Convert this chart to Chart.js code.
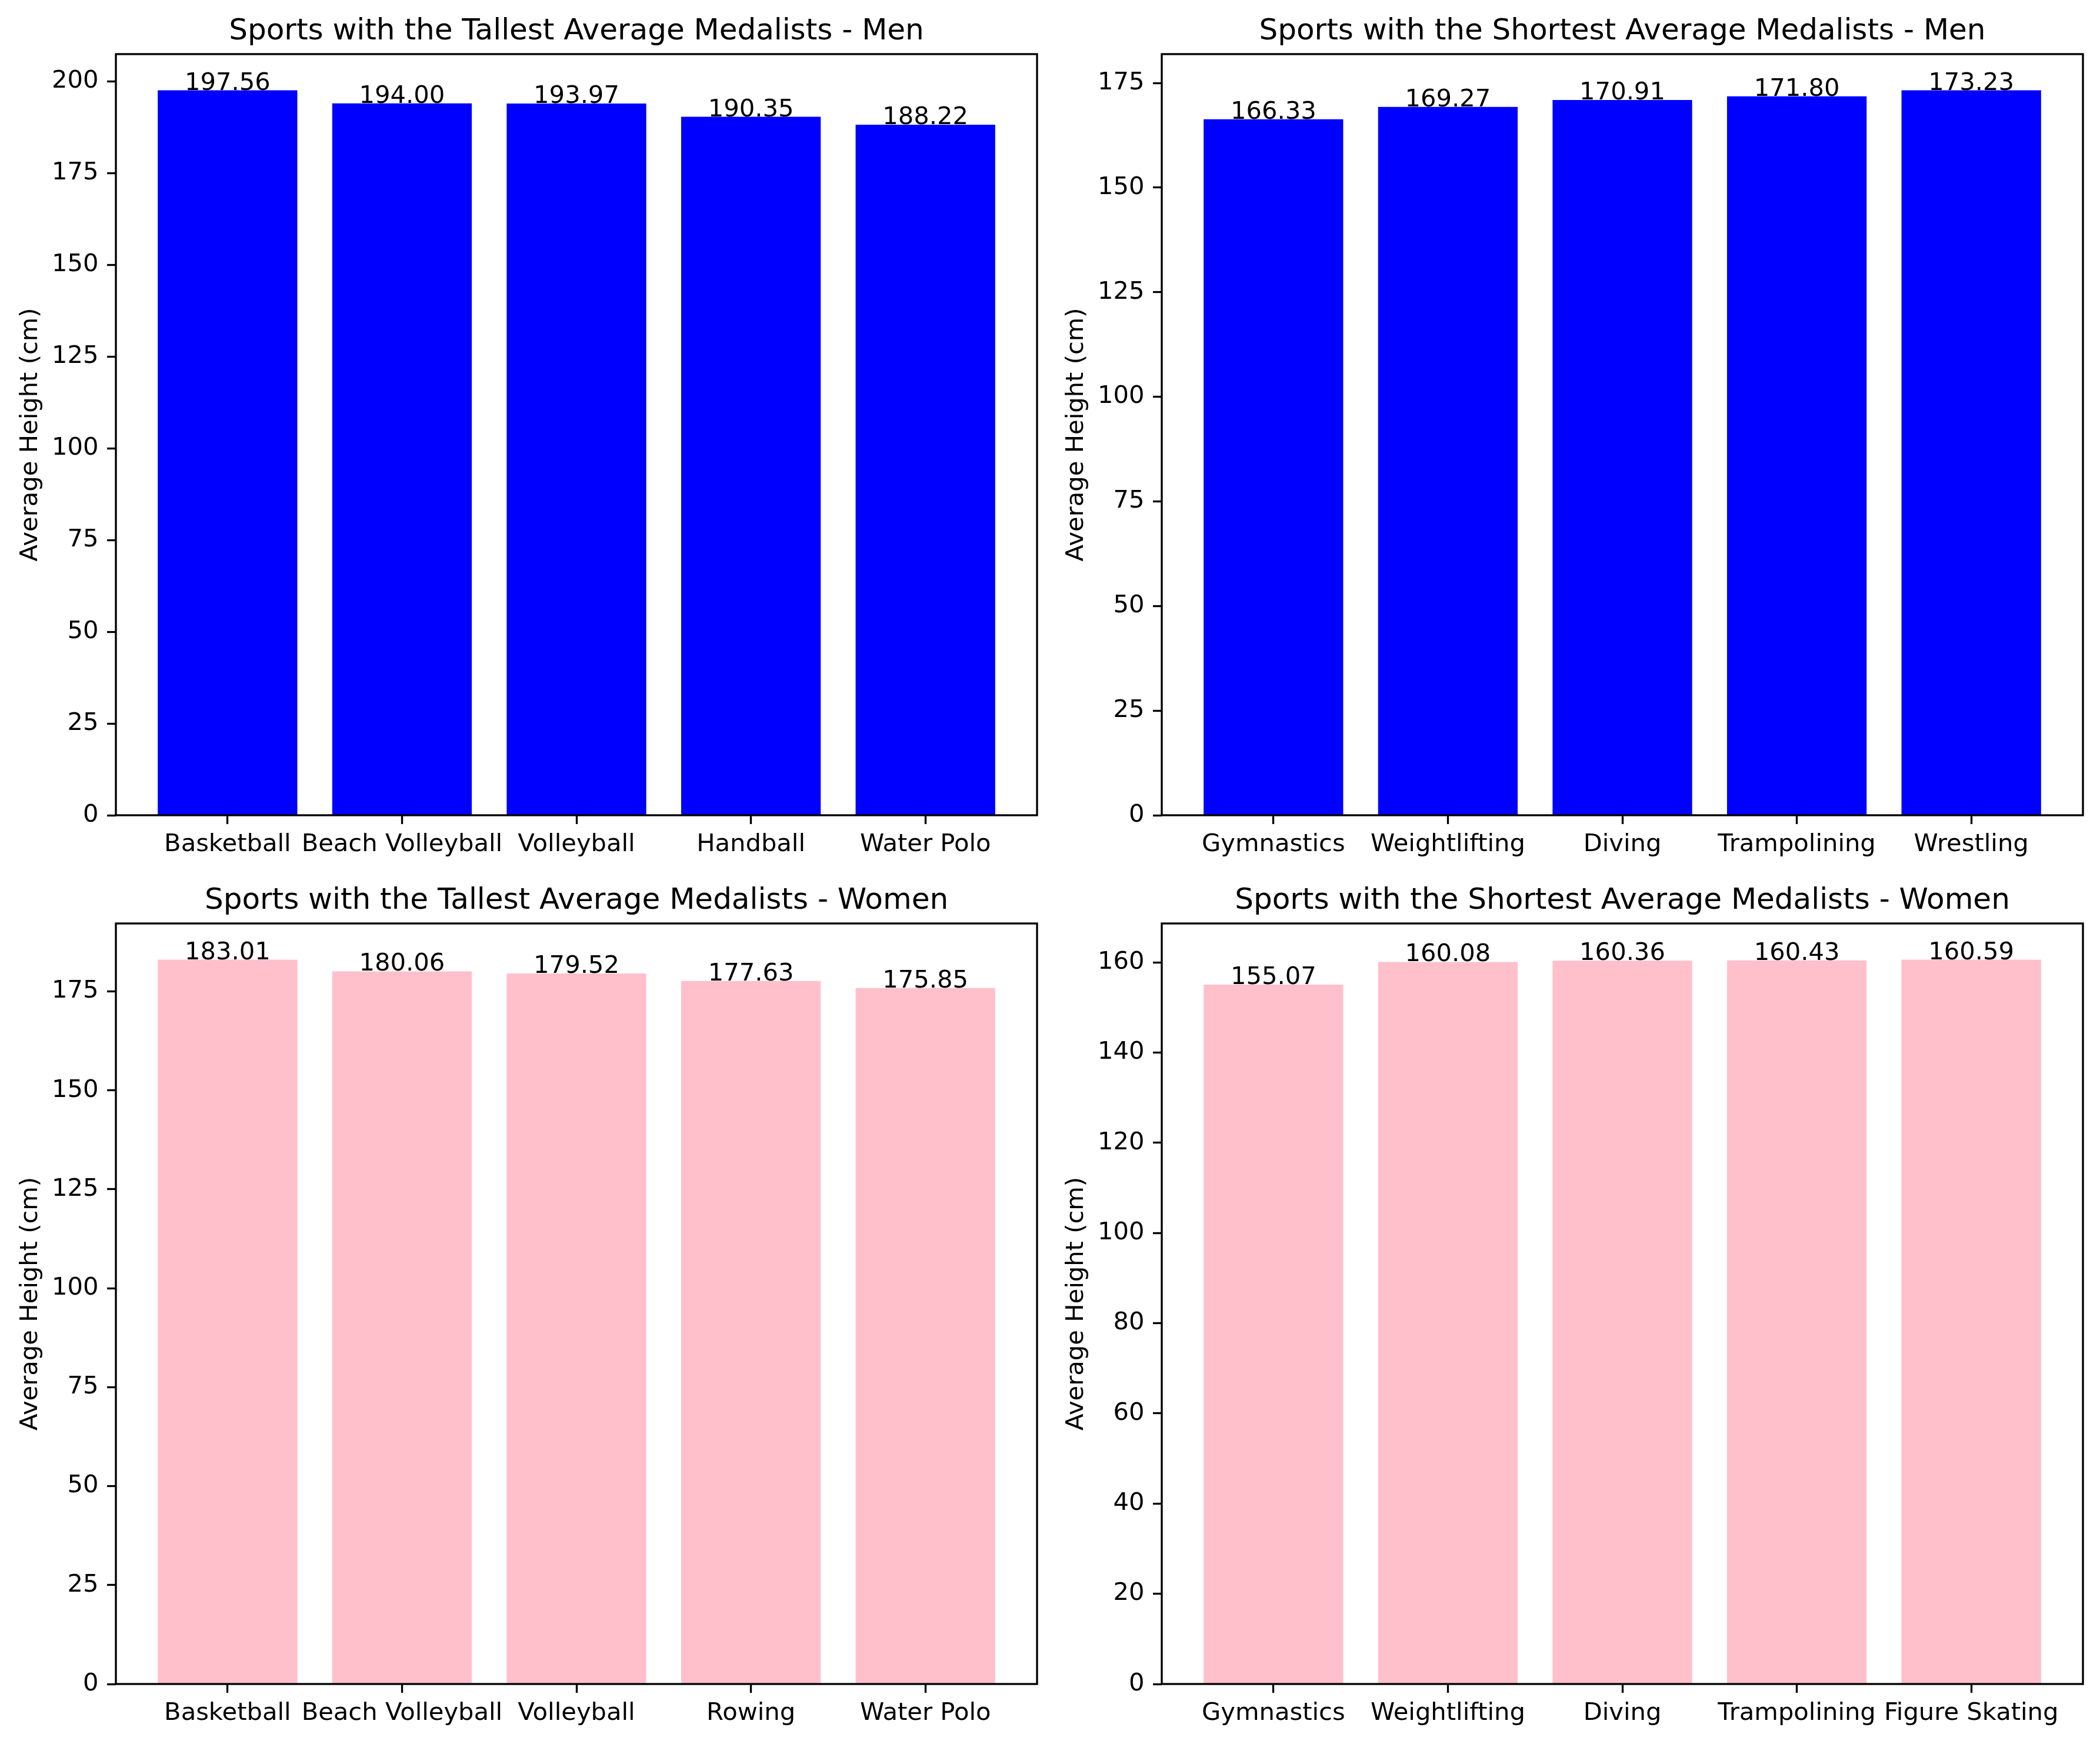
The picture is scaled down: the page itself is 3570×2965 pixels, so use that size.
<!DOCTYPE html>
<html>
<head>
<meta charset="utf-8">
<script src="https://cdn.jsdelivr.net/npm/chart.js@4.4.1/dist/chart.umd.min.js"></script>
<style>
  html, body { margin: 0; padding: 0; background: #fff; }
  body { width: 3570px; height: 2965px; position: relative; overflow: hidden; }
  canvas { position: absolute; }
</style>
</head>
<body>
<canvas id="tallMen" width="1785" height="1480" style="left:0;top:0"></canvas>
<canvas id="shortMen" width="1785" height="1480" style="left:1785px;top:0"></canvas>
<canvas id="tallWomen" width="1785" height="1485" style="left:0;top:1480px"></canvas>
<canvas id="shortWomen" width="1785" height="1485" style="left:1785px;top:1480px"></canvas>
<script>
// data
const tallMenSports = ['Basketball', 'Beach Volleyball', 'Volleyball', 'Handball', 'Water Polo'];
const tallMenHeights = [197.56, 194.00, 193.97, 190.35, 188.22];

const shortMenSports = ['Gymnastics', 'Weightlifting', 'Diving', 'Trampolining', 'Wrestling'];
const shortMenHeights = [166.33, 169.27, 170.91, 171.80, 173.23];

const tallWomenSports = ['Basketball', 'Beach Volleyball', 'Volleyball', 'Rowing', 'Water Polo'];
const tallWomenHeights = [183.01, 180.06, 179.52, 177.63, 175.85];

const shortWomenSports = ['Gymnastics', 'Weightlifting', 'Diving', 'Trampolining', 'Figure Skating'];
const shortWomenHeights = [155.07, 160.08, 160.36, 160.43, 160.59];

// y tick labels
const tallMenTicks = [0, 25, 50, 75, 100, 125, 150, 175, 200];
const shortMenTicks = [0, 25, 50, 75, 100, 125, 150, 175];
const tallWomenTicks = [0, 25, 50, 75, 100, 125, 150, 175];
const shortWomenTicks = [0, 20, 40, 60, 80, 100, 120, 140, 160];

Chart.defaults.font.family = '"DejaVu Sans", sans-serif';
Chart.defaults.color = '#000';

const FS = 41.67;      // 10pt at 300 dpi
const TITLE_FS = 50;   // 12pt

// spines, value labels, title and y label drawn on top of the chart
const panelPlugin = {
  id: 'panel',
  afterDraw(chart, args, opts) {
    const ctx = chart.ctx;
    const a = chart.chartArea;
    ctx.save();
    ctx.strokeStyle = '#000';
    ctx.lineWidth = 3.33;
    ctx.strokeRect(a.left, a.top, a.right - a.left, a.bottom - a.top);

    ctx.fillStyle = '#000';
    ctx.textAlign = 'center';
    ctx.textBaseline = 'alphabetic';
    ctx.font = FS + 'px "DejaVu Sans"';
    const pts = chart.data.datasets[0].data;
    chart.getDatasetMeta(0).data.forEach((bar, i) => {
      ctx.fillText(pts[i].y.toFixed(2), bar.x, bar.y - 1);
    });

    ctx.font = TITLE_FS + 'px "DejaVu Sans"';
    ctx.fillText(opts.title, (a.left + a.right) / 2, a.top - 25);

    ctx.translate(a.left - 134, (a.top + a.bottom) / 2);
    ctx.rotate(-Math.PI / 2);
    ctx.font = FS + 'px "DejaVu Sans"';
    ctx.fillText('Average Height (cm)', 0, 0);
    ctx.restore();
  }
};

function makePanel(id, title, sports, heights, yTicks, color, box) {
  const yMax = Math.max(...heights) * 1.05;   // matplotlib's 5% autoscale margin
  new Chart(document.getElementById(id), {
    type: 'bar',
    data: {
      datasets: [{
        data: heights.map((h, i) => ({ x: i, y: h })),
        backgroundColor: color,
        borderWidth: 0,
        categoryPercentage: 0.8,
        barPercentage: 1.0
      }]
    },
    options: {
      responsive: false,
      animation: false,
      devicePixelRatio: 1,
      layout: { padding: { top: box.top, right: box.right, left: 0, bottom: 0 } },
      plugins: {
        legend: { display: false },
        tooltip: { enabled: false },
        panel: { title: title }
      },
      scales: {
        x: {
          type: 'linear',
          offset: false,
          min: -0.64,
          max: sports.length - 1 + 0.64,
          afterBuildTicks: (scale) => {
            scale.ticks = sports.map((s, i) => ({ value: i }));
          },
          afterFit: (scale) => { scale.height = box.xAxis; },
          ticks: {
            autoSkip: false,
            maxRotation: 0,
            minRotation: 0,
            padding: 10,
            font: { size: FS },
            callback: (v) => sports[v]
          },
          grid: {
            offset: false,
            drawOnChartArea: false,
            drawTicks: true,
            tickLength: 15,
            tickWidth: 3.33,
            tickColor: '#000'
          },
          border: { display: false }
        },
        y: {
          min: 0,
          max: yMax,
          afterBuildTicks: (scale) => {
            scale.ticks = yTicks.map(v => ({ value: v }));
          },
          afterFit: (scale) => { scale.width = box.left; },
          ticks: {
            padding: 14.6,
            font: { size: FS },
            callback: (v) => String(v)
          },
          grid: {
            drawOnChartArea: false,
            drawTicks: true,
            tickLength: 15,
            tickWidth: 3.33,
            tickColor: '#000'
          },
          border: { display: false }
        }
      }
    },
    plugins: [panelPlugin]
  });
}

makePanel('tallMen', 'Sports with the Tallest Average Medalists - Men',
  tallMenSports, tallMenHeights, tallMenTicks, '#0000ff',
  { top: 92, right: 22, left: 197, xAxis: 94 });
makePanel('shortMen', 'Sports with the Shortest Average Medalists - Men',
  shortMenSports, shortMenHeights, shortMenTicks, '#0000ff',
  { top: 92, right: 29, left: 190, xAxis: 94 });
makePanel('tallWomen', 'Sports with the Tallest Average Medalists - Women',
  tallWomenSports, tallWomenHeights, tallWomenTicks, '#ffc0cb',
  { top: 90, right: 22, left: 197, xAxis: 102 });
makePanel('shortWomen', 'Sports with the Shortest Average Medalists - Women',
  shortWomenSports, shortWomenHeights, shortWomenTicks, '#ffc0cb',
  { top: 90, right: 29, left: 190, xAxis: 102 });
</script>
</body>
</html>
